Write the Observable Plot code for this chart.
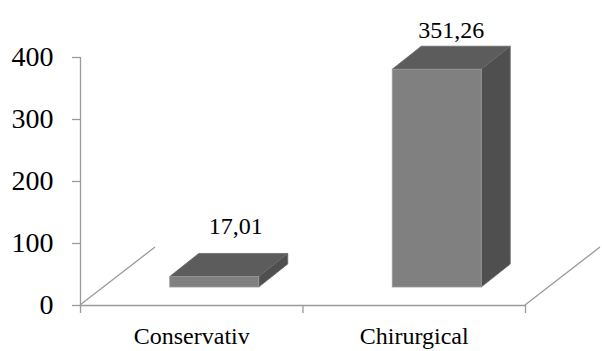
<!DOCTYPE html>
<html>
<head>
<meta charset="utf-8">
<script src="https://cdn.jsdelivr.net/npm/d3@7"></script>
<script src="https://cdn.jsdelivr.net/npm/@observablehq/plot@0.6"></script>
<style>
  html, body { margin: 0; padding: 0; background: #fff; }
  svg, svg text { font-family: "Liberation Serif", "Times New Roman", serif !important; }
</style>
</head>
<body>
<div id="chart"></div>
<script>
const categories = ["Conservativ", "Chirurgical"];
const values = [17.01, 351.26];
const yTicks = [0, 100, 200, 300, 400];

const data = categories.map((c, i) => ({cat: c, idx: i, value: values[i], label: values[i].toFixed(2).replace(".", ",")}));

// 3D geometry (pixels)
const OX = 23, OY = -18;   // offset of bar front face from the front plane
const BX = 29, BY = -23;   // bar depth
const FX = 75, FY = -58;   // full floor depth
const FRONT = "#808080", TOP = "#5c5c5c", SIDE = "#4f4f4f", AXIS = "#9a9a9a";
const FONT = "Liberation Serif, Times New Roman, serif";

function box3d(index, scales, vals) {
  const {x1: X1, x2: X2, y1: Y1, y2: Y2} = vals;
  const g = d3.create("svg:g");
  for (const i of index) {
    const xa = X1[i] + OX, xb = X2[i] + OX, yb = Y1[i] + OY, yt = Y2[i] + OY;
    g.append("path")
      .attr("d", `M${xa},${yt}L${xa + BX},${yt + BY}L${xb + BX},${yt + BY}L${xb},${yt}Z`)
      .attr("fill", TOP).attr("stroke", "#6a6a6a").attr("stroke-width", 0.8);
    g.append("path")
      .attr("d", `M${xb},${yt}L${xb + BX},${yt + BY}L${xb + BX},${yb + BY}L${xb},${yb}Z`)
      .attr("fill", SIDE).attr("stroke", "#6a6a6a").attr("stroke-width", 0.8);
    g.append("rect")
      .attr("x", xa).attr("y", yt).attr("width", xb - xa).attr("height", yb - yt)
      .attr("fill", FRONT).attr("stroke", "#9a9a9a").attr("stroke-width", 0.8);
  }
  return g.node();
}

function floorDiag(index, scales, vals) {
  const {x: X, y: Y} = vals;
  const g = d3.create("svg:g");
  for (const i of index) {
    g.append("line")
      .attr("x1", X[i]).attr("y1", Y[i])
      .attr("x2", X[i] + FX).attr("y2", Y[i] + FY)
      .attr("stroke", AXIS).attr("stroke-width", 1.3);
  }
  return g.node();
}

const chart = Plot.plot({
  width: 602,
  height: 351,
  marginLeft: 80,
  marginRight: 77,
  marginTop: 57,
  marginBottom: 46,
  style: {background: "#fff", color: "#000"},
  x: {type: "linear", domain: [0, categories.length], axis: null},
  y: {domain: [0, 400], axis: null},
  marks: [
    // floor diagonals
    Plot.dot([0, categories.length], {x: d => d, y: () => 0, render: floorDiag}),
    // axis lines
    Plot.ruleY([0], {stroke: AXIS, strokeWidth: 1.3}),
    Plot.ruleX([0], {stroke: AXIS, strokeWidth: 1.3}),
    Plot.axisY({ticks: yTicks, label: null, tickSize: 8, tickPadding: 19, fontSize: 28, fontFamily: FONT, stroke: AXIS, strokeWidth: 1.3, strokeOpacity: 1, fill: "#000"}),
    Plot.axisX({ticks: d3.range(categories.length + 1), label: null, tickSize: 8, tickFormat: () => "", stroke: AXIS, strokeWidth: 1.3, strokeOpacity: 1}),
    // 3D bars
    Plot.rect(data, {x1: d => d.idx + 0.3, x2: d => d.idx + 0.7, y1: 0, y2: "value", render: box3d}),
    // value labels
    Plot.text(data, {filter: d => d.idx === 0, x: d => d.idx + 0.5, y: "value", text: "label", dx: 44, dy: -69, fontSize: 24, fontFamily: FONT, fill: "#000"}),
    Plot.text(data, {filter: d => d.idx === 1, x: d => d.idx + 0.5, y: "value", text: "label", dx: 37, dy: -57, fontSize: 24, fontFamily: FONT, fill: "#000"}),
    // category labels
    Plot.text(data, {x: d => d.idx + 0.5, y: () => 0, text: "cat", dy: 31, fontSize: 24, fontFamily: FONT, fill: "#000"})
  ]
});
document.getElementById("chart").appendChild(chart);
</script>
</body>
</html>
